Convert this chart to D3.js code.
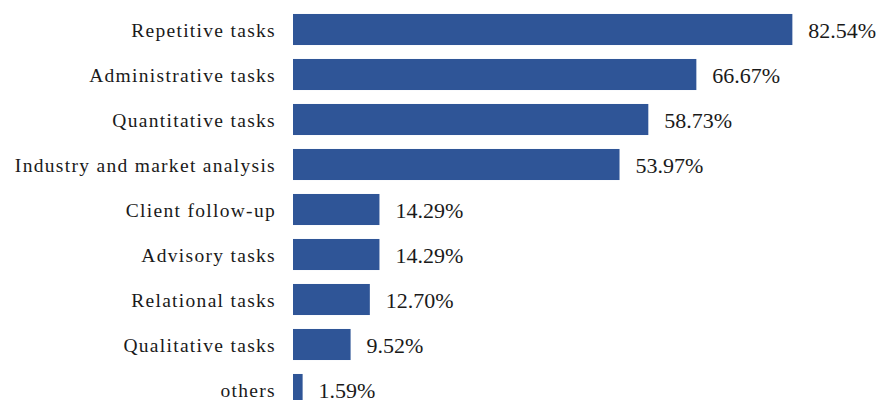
<!DOCTYPE html>
<html>
<head>
<meta charset="utf-8">
<script src="https://cdn.jsdelivr.net/npm/d3@7"></script>
<style>
  html, body { margin: 0; padding: 0; background: #fff; }
  svg { display: block; }
</style>
</head>
<body>
<svg id="chart" width="879" height="400"></svg>
<script>
// Share of respondents naming each task type
const categories = [
  "Repetitive tasks",
  "Administrative tasks",
  "Quantitative tasks",
  "Industry and market analysis",
  "Client follow-up",
  "Advisory tasks",
  "Relational tasks",
  "Qualitative tasks",
  "others"
];
const values = [82.54, 66.67, 58.73, 53.97, 14.29, 14.29, 12.70, 9.52, 1.59];

const svg = d3.select("#chart");
const barColor = "#2f5597";
const textColor = "#1a1a1a";
const font = "'Liberation Serif', 'Times New Roman', serif";

const x = d3.scaleLinear().domain([0, 100]).range([293, 898]);
const y = d3.scaleBand()
  .domain(categories)
  .range([7, 412])
  .paddingInner(0.31)
  .paddingOuter(0.155);

const rows = categories.map((c, i) => ({ cat: c, val: values[i] }));

// Bars
svg.append("g")
  .selectAll("rect")
  .data(rows)
  .join("rect")
  .attr("x", x(0))
  .attr("y", d => y(d.cat))
  .attr("width", d => x(d.val) - x(0))
  .attr("height", y.bandwidth())
  .attr("fill", barColor);

// Category labels on the left
const yAxis = d3.axisLeft(y).tickSize(0).tickPadding(17);
const gy = svg.append("g")
  .attr("transform", `translate(${x(0)},0)`)
  .call(yAxis);
gy.select(".domain").remove();
gy.selectAll("text")
  .attr("font-family", font)
  .attr("font-size", 19.5)
  .attr("letter-spacing", "1.3px")
  .attr("dy", "0.37em")
  .attr("fill", textColor);

// Value labels at the bar ends
svg.append("g")
  .selectAll("text")
  .data(rows)
  .join("text")
  .attr("x", d => x(d.val) + 16)
  .attr("y", d => y(d.cat) + y.bandwidth() / 2)
  .attr("dy", "0.4em")
  .attr("font-family", font)
  .attr("font-size", 22)
  .attr("fill", textColor)
  .text(d => d.val.toFixed(2) + "%");
</script>
</body>
</html>
